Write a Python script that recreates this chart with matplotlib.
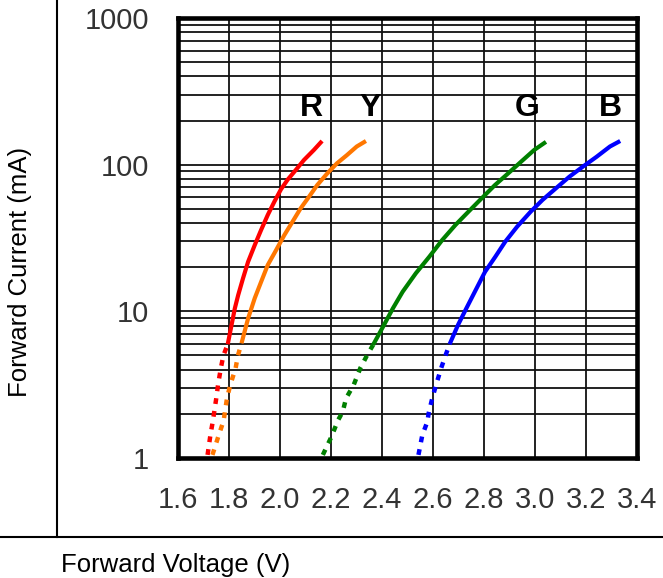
import matplotlib
matplotlib.use("Agg")
import matplotlib.pyplot as plt
from matplotlib.lines import Line2D
from matplotlib.ticker import FixedLocator, NullFormatter, LogLocator

plt.rcParams['font.family'] = ['Liberation Sans', 'DejaVu Sans']

# ---- data ----
x_ticks = [1.6, 1.8, 2.0, 2.2, 2.4, 2.6, 2.8, 3.0, 3.2, 3.4]
x_tick_labels = ["1.6", "1.8", "2.0", "2.2", "2.4", "2.6", "2.8", "3.0", "3.2", "3.4"]
y_ticks = [1, 10, 100, 1000]
y_tick_labels = ["1", "10", "100", "1000"]

series_names = ["R", "Y", "G", "B"]
series_colors = ["#ff0000", "#ff7700", "#008000", "#0000ff"]

red_solid_v = [1.795, 1.810, 1.823, 1.836, 1.855, 1.875, 1.901, 1.926, 1.952, 1.978,
               2.004, 2.030, 2.062, 2.094, 2.133, 2.165]
red_solid_i = [5.96, 8.07, 10.5, 12.9, 16.8, 21.8, 28.3, 35.9, 45.4, 56,
               68, 79, 92, 107.6, 126, 145]
red_dash_v = [1.716, 1.727, 1.737, 1.750, 1.757, 1.768, 1.778, 1.795]
red_dash_i = [1.05, 1.43, 1.8, 2.55, 3.15, 4.1, 5.0, 5.96]

yel_solid_v = [1.849, 1.875, 1.901, 1.926, 1.952, 1.985, 2.017, 2.049, 2.081, 2.114,
               2.146, 2.185, 2.223, 2.262, 2.301, 2.337]
yel_solid_i = [6.05, 8.96, 12.3, 15.9, 20.7, 26.2, 33.1, 40.8, 50.4, 60.5,
               72.6, 87, 102, 116, 133, 145]
yel_dash_v = [1.735, 1.758, 1.779, 1.792, 1.805, 1.826, 1.835, 1.849]
yel_dash_i = [1.05, 1.4, 1.8, 2.55, 3.15, 4.1, 5.0, 6.05]

grn_solid_v = [2.365, 2.404, 2.443, 2.481, 2.533, 2.585, 2.636, 2.688, 2.739, 2.791,
               2.843, 2.894, 2.946, 2.997, 3.043]
grn_solid_i = [5.9, 7.85, 10.5, 13.6, 18.2, 23.5, 30.6, 38.8, 47.8, 59,
               72.6, 87, 105, 126, 143]
grn_dash_v = [2.168, 2.202, 2.227, 2.246, 2.259, 2.289, 2.315, 2.341, 2.365]
grn_dash_i = [1.05, 1.4, 1.8, 2.07, 2.55, 3.15, 4.1, 5.0, 5.9]

blu_solid_v = [2.665, 2.698, 2.731, 2.764, 2.804, 2.844, 2.883, 2.930, 2.983, 3.029,
               3.082, 3.135, 3.188, 3.241, 3.294, 3.334]
blu_solid_i = [5.96, 8.07, 10.5, 13.6, 18.6, 23.5, 29.8, 37.8, 47.8, 57.4,
               69, 82.8, 97, 113, 133, 145]
blu_dash_v = [2.543, 2.558, 2.578, 2.583, 2.597, 2.612, 2.632, 2.649, 2.665]
blu_dash_i = [1.05, 1.43, 1.77, 2.02, 2.55, 3.15, 4.1, 5.0, 5.96]

label_v = [2.125, 2.353, 2.969, 3.294]
label_i = [243, 243, 243, 243]

solids = [(red_solid_v, red_solid_i), (yel_solid_v, yel_solid_i),
          (grn_solid_v, grn_solid_i), (blu_solid_v, blu_solid_i)]
dashes = [(red_dash_v, red_dash_i), (yel_dash_v, yel_dash_i),
          (grn_dash_v, grn_dash_i), (blu_dash_v, blu_dash_i)]

# ---- figure ----
fig = plt.figure(figsize=(6.63, 5.78), dpi=100)
ax = fig.add_axes([178 / 663, 1 - 458 / 578, (637 - 178) / 663, (458 - 18) / 578])
ax.set_yscale("log")
ax.set_xlim(1.6, 3.4)
ax.set_ylim(1, 1000)

# grid
ax.xaxis.set_major_locator(FixedLocator(x_ticks))
ax.set_xticklabels(x_tick_labels)
ax.yaxis.set_major_locator(FixedLocator(y_ticks))
ax.set_yticklabels(y_tick_labels)
ax.yaxis.set_minor_locator(LogLocator(base=10, subs=range(2, 10)))
ax.yaxis.set_minor_formatter(NullFormatter())
ax.grid(True, which="both", axis="y", color="#111111", linewidth=1.3)
ax.grid(True, which="major", axis="x", color="#111111", linewidth=1.3)
ax.set_axisbelow(True)

ax.tick_params(which="both", length=0)
ax.tick_params(axis="x", pad=20, labelsize=21, labelcolor="#333333")
ax.tick_params(axis="y", pad=21, labelsize=21, labelcolor="#333333")

for s in ax.spines.values():
    s.set_linewidth(3.3)
    s.set_color("black")

for (v, i), col in zip(solids, series_colors):
    ax.plot(v, i, color=col, linewidth=3.0, solid_capstyle="butt",
            solid_joinstyle="round", zorder=3)
for (v, i), col in zip(dashes, series_colors):
    ax.plot(v, i, color=col, linewidth=3.2, linestyle=(0, (1.3, 1.6)),
            dash_capstyle="butt", zorder=3)

for name, v, i in zip(series_names, label_v, label_i):
    ax.text(v, i, name, ha="center", va="center", fontsize=23, fontweight="bold",
            color="black", zorder=4)

# outer frame lines
fig.add_artist(Line2D([57 / 663, 57 / 663], [1 - 537 / 578, 1.0],
                      transform=fig.transFigure, color="black", linewidth=1.5))
fig.add_artist(Line2D([0, 1], [1 - 537 / 578, 1 - 537 / 578],
                      transform=fig.transFigure, color="black", linewidth=1.5))

fig.text(61 / 663, 1 - 565 / 578, "Forward Voltage (V)", ha="left", va="center",
         fontsize=18.5, color="black")
fig.text(20 / 663, 1 - 272 / 578, "Forward Current (mA)", ha="center", va="center",
         rotation=90, fontsize=18.5, color="black")

fig.savefig("out.png", dpi=100)
